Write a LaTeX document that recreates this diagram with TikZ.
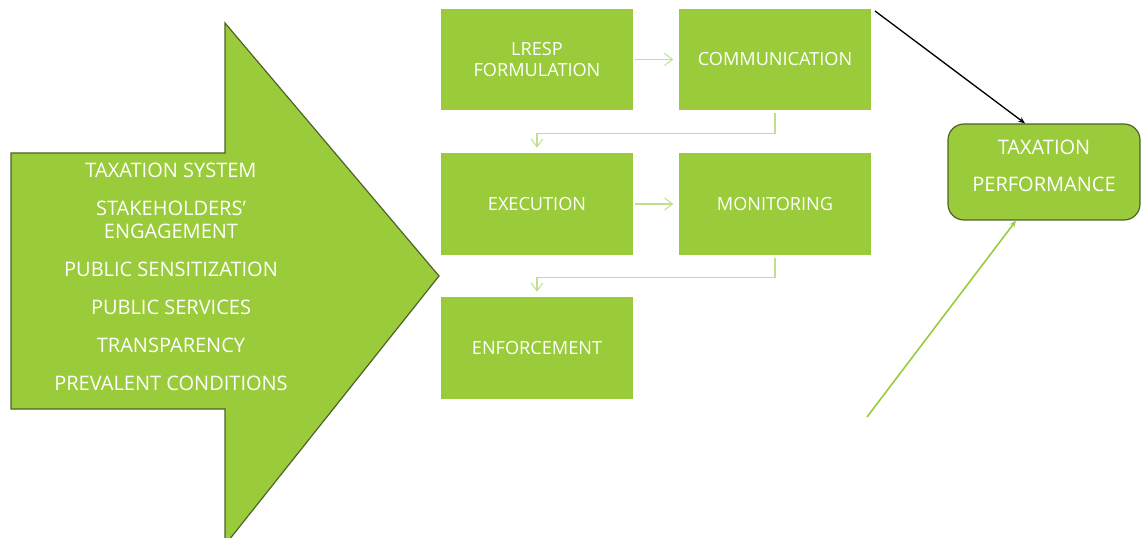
\documentclass[tikz,border=0pt]{standalone}
\usepackage{fontspec}
\setmainfont{Open Sans}
\usetikzlibrary{arrows.meta}
\definecolor{leaf}{RGB}{154,203,58}
\definecolor{leafdark}{RGB}{79,98,40}
\definecolor{leaflight}{RGB}{190,224,140}
\begin{document}
\begin{tikzpicture}[x=0.75pt, y=-0.75pt,
		every node/.style={font=\fontsize{15}{17.25}\selectfont, text=white},
		stage/.style={fill=leaf, minimum width=144pt, minimum height=76pt, inner sep=0pt, align=center, font=\fontsize{13.6}{15.75}\selectfont},
		flow/.style={draw=leaflight, line width=0.8pt, -{Straight Barb[length=6pt,width=9pt]}}]
	\useasboundingbox (0,0) rectangle (1141,538);

	% big arrow with the factors
	\draw[fill=leaf, draw=leafdark, line width=0.9pt] (11,153) -- (225,153) -- (225,23) -- (439,276) -- (225,545) -- (225,409) -- (11,409) -- cycle;
	\node[align=center] (factors) at (171,277) {TAXATION SYSTEM\\[11.25pt]STAKEHOLDERS’\\ENGAGEMENT\\[11.25pt]PUBLIC SENSITIZATION\\[11.25pt]PUBLIC SERVICES\\[11.25pt]TRANSPARENCY\\[11.25pt]PREVALENT CONDITIONS};

	% stages
	\node[stage] (lresp) at (537,59.5) {LRESP\\FORMULATION};
	\node[stage] (comm) at (775,59.5) {COMMUNICATION};
	\node[stage] (exec) at (537,204) {EXECUTION};
	\node[stage] (mon) at (775,204) {MONITORING};
	\node[stage] (enf) at (537,348) {ENFORCEMENT};

	\node[fill=leaf, draw=leafdark, line width=0.9pt, rounded corners=12pt, minimum width=144pt, minimum height=72pt,
		label={[align=center, yshift=4.5pt]center:TAXATION\\[10.5pt]PERFORMANCE}] (perf) at (1044,172) {};

	\draw[flow] (lresp.east) ++(2,0) -- ([xshift=-4pt]comm.west);
	\draw[flow] (exec.east) ++(2,0) -- ([xshift=-4pt]mon.west);
	\draw[flow] ([yshift=-2pt]comm.south) -- ++(0,20) -| ([yshift=4pt]exec.north);
	\draw[flow] ([yshift=-2pt]mon.south) -- ++(0,20) -| ([yshift=4pt]enf.north);

	\coordinate (top) at (875,11);
	\coordinate (low) at (867,417);
	\draw[black, line width=1pt, -{Stealth[length=5pt,width=4pt]}] (top) -- (perf.north -| 1025,0);
	\draw[leaf, line width=1.2pt, -{Stealth[length=5pt,width=4pt]}] (low) -- (perf.south -| 1016,0);
\end{tikzpicture}
\end{document}
